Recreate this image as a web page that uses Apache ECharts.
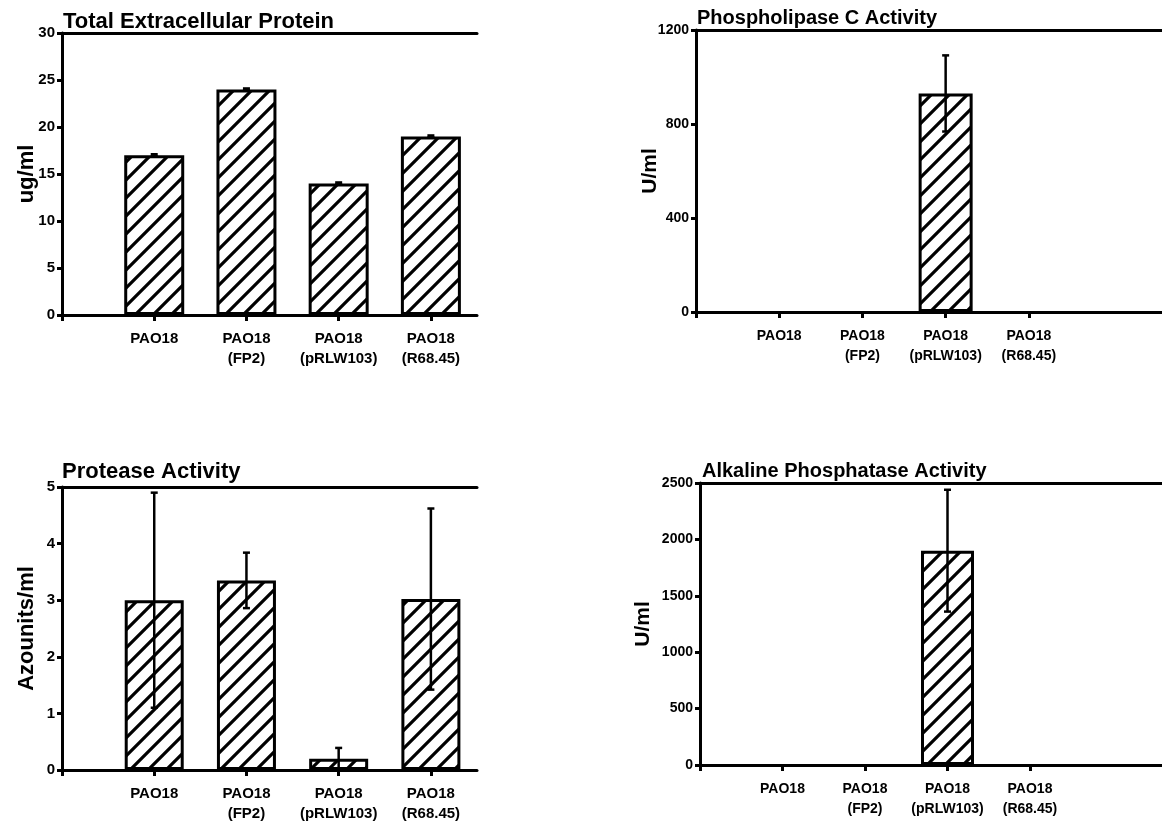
<!DOCTYPE html>
<html>
<head>
<meta charset="utf-8">
<script src="https://cdn.jsdelivr.net/npm/echarts@6/dist/echarts.min.js"></script>
<style>
  html, body { margin: 0; padding: 0; background: #fff; }
  #chart { width: 1162px; height: 824px; }
</style>
</head>
<body>
<div id="chart"></div>
<script>
// strains on the x axis (same four in every panel)
var strains = ['PAO18', 'PAO18\n(FP2)', 'PAO18\n(pRLW103)', 'PAO18\n(R68.45)'];
var strainPos = [1, 2, 3, 4];

// panel titles and y axis names
var titles = ['Total Extracellular Protein', 'Phospholipase C Activity', 'Protease Activity', 'Alkaline Phosphatase Activity'];
var yNames = ['ug/ml', 'U/ml', 'Azounits/ml', 'U/ml'];

// y scales: [max, interval]
var proteinScale = [30, 5];
var plcScale = [1200, 400];
var proteaseScale = [5, 1];
var alkScale = [2500, 500];

// means and error (+/-)
var proteinMean = [17, 24, 14, 19];
var proteinErr = [0.1, 0.1, 0.1, 0.1];
var plcMean = [0, 0, 930, 0];
var plcErr = [0, 0, 162, 0];
var proteaseMean = [3.0, 3.35, 0.2, 3.02];
var proteaseErr = [1.9, 0.49, 0.19, 1.6];
var alkMean = [0, 0, 1900, 0];
var alkErr = [0, 0, 540, 0];

var FONT = '"Liberation Sans", Arial, sans-serif';

// hatch pattern "////"
function makeHatch() {
	var s = 18;
	var c = document.createElement('canvas');
	c.width = s; c.height = s;
	var ctx = c.getContext('2d');
	ctx.fillStyle = '#fff';
	ctx.fillRect(0, 0, s, s);
	ctx.strokeStyle = '#000';
	ctx.lineWidth = 3.2;
	ctx.beginPath();
	ctx.moveTo(0, s); ctx.lineTo(s, 0);
	ctx.moveTo(-s / 4, s / 4); ctx.lineTo(s / 4, -s / 4);
	ctx.moveTo(3 * s / 4, 5 * s / 4); ctx.lineTo(5 * s / 4, 3 * s / 4);
	ctx.stroke();
	return c;
}
var hatch = makeHatch();

var panels = [
	{ mean: proteinMean, err: proteinErr, scale: proteinScale, grid: { left: 62, top: 33, width: 415, height: 282 }, xMax: 4.5, barW: 60, titlePos: [63, 11], titleSize: 22, nameSize: 22, nameGap: 24, tickSize: 15, catSize: 15 },
	{ mean: plcMean, err: plcErr, scale: plcScale, grid: { left: 696, top: 30, right: 0, height: 282 }, xMax: 5.6, barW: 54, titlePos: [697, 8], titleSize: 20, nameSize: 21, nameGap: 35, tickSize: 14, catSize: 14 },
	{ mean: proteaseMean, err: proteaseErr, scale: proteaseScale, grid: { left: 62, top: 487, width: 415, height: 283 }, xMax: 4.5, barW: 59, titlePos: [62, 461], titleSize: 22, nameSize: 22, nameGap: 24, tickSize: 15, catSize: 15 },
	{ mean: alkMean, err: alkErr, scale: alkScale, grid: { left: 700, top: 483, right: 0, height: 282 }, xMax: 5.6, barW: 53, titlePos: [702, 461], titleSize: 20, nameSize: 21, nameGap: 46, tickSize: 14, catSize: 14 }
];

var option = {
	backgroundColor: '#fff',
	animation: false,
	title: [], grid: [], xAxis: [], yAxis: [], series: []
};

panels.forEach(function(p, i) {
	option.title.push({
		text: titles[i], left: p.titlePos[0], top: p.titlePos[1], padding: 0,
		textStyle: { fontFamily: FONT, fontWeight: 'bold', fontSize: p.titleSize, color: '#000' }
	});
	option.grid.push(p.grid);
	// bottom axis with strain labels
	option.xAxis.push({
		type: 'value', gridIndex: i, min: 0, max: p.xMax, interval: 1,
		axisLine: { show: true, lineStyle: { color: '#000', width: 3 } },
		axisTick: { show: true, customValues: [0, 1, 2, 3, 4], length: 6, lineStyle: { color: '#000', width: 3 } },
		axisLabel: {
			customValues: strainPos, margin: 14, color: '#000', fontFamily: FONT, fontWeight: 'bold',
			fontSize: p.catSize, lineHeight: 20,
			formatter: function(v) { return strains[Math.round(v) - 1] || ''; }
		},
		splitLine: { show: false }
	});
	// top frame line
	option.xAxis.push({
		type: 'value', gridIndex: i, position: 'top', min: 0, max: p.xMax,
		axisLine: { show: true, lineStyle: { color: '#000', width: 3 } },
		axisTick: { show: false }, axisLabel: { show: false }, splitLine: { show: false }
	});
	option.yAxis.push({
		type: 'value', gridIndex: i, min: 0, max: p.scale[0], interval: p.scale[1],
		name: yNames[i], nameLocation: 'middle', nameGap: p.nameGap, nameMoveOverlap: false,
		nameTextStyle: { fontFamily: FONT, fontWeight: 'bold', fontSize: p.nameSize, color: '#000' },
		axisLine: { show: true, lineStyle: { color: '#000', width: 3 } },
		axisTick: { show: true, length: 5, lineStyle: { color: '#000', width: 3 } },
		axisLabel: {
			margin: 7, color: '#000', fontFamily: FONT, fontWeight: 'bold', fontSize: p.tickSize,
			formatter: function(v) { return String(v); }
		},
		splitLine: { show: false }
	});

	var barData = [], errData = [];
	for (var k = 0; k < strainPos.length; k++) {
		if (p.mean[k] > 0) barData.push([strainPos[k], p.mean[k]]);
		if (p.err[k] > 0) errData.push([strainPos[k], p.mean[k] - p.err[k], p.mean[k] + p.err[k]]);
	}
	option.series.push({
		type: 'bar', xAxisIndex: 2 * i, yAxisIndex: i, barWidth: p.barW,
		data: barData,
		itemStyle: { color: { image: hatch, repeat: 'repeat' }, borderColor: '#000', borderWidth: 3 }
	});
	option.series.push({
		type: 'custom', xAxisIndex: 2 * i, yAxisIndex: i, data: errData, z: 5,
		renderItem: function(params, api) {
			var hi = api.coord([api.value(0), api.value(2)]);
			var lo = api.coord([api.value(0), api.value(1)]);
			var cap = 3.5;
			var st = { stroke: '#000', lineWidth: 2.5 };
			return {
				type: 'group',
				children: [
					{ type: 'line', shape: { x1: hi[0], y1: hi[1], x2: lo[0], y2: lo[1] }, style: st },
					{ type: 'line', shape: { x1: hi[0] - cap, y1: hi[1], x2: hi[0] + cap, y2: hi[1] }, style: st },
					{ type: 'line', shape: { x1: lo[0] - cap, y1: lo[1], x2: lo[0] + cap, y2: lo[1] }, style: st }
				]
			};
		}
	});
});

var chart = echarts.init(document.getElementById('chart'));
chart.setOption(option);
</script>
</body>
</html>
